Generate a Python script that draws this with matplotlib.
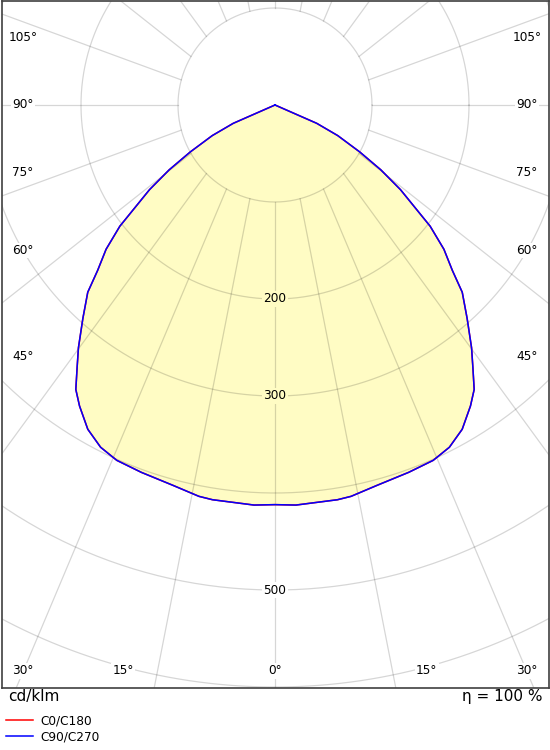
import numpy as np
import matplotlib.pyplot as plt

# luminous intensity (cd/klm) vs gamma angle
gamma_deg = [0, 3, 9, 11, 15, 20, 24, 27, 30, 33, 35, 37, 39, 42, 45, 47, 49.5, 52,
             56, 58.5, 61, 64, 66.3, 68, 90]
c0_c180 = [412, 413, 412, 411, 406, 403, 401, 396, 386, 370, 358, 339, 322, 296, 273, 250,
           229, 203, 156, 128, 100, 72, 47, 0, 0]
c90_c270 = [412, 413, 412, 411, 406, 403, 401, 396, 386, 370, 358, 339, 322, 296, 273, 250,
            229, 203, 156, 128, 100, 72, 47, 0, 0]

ring_values = [100, 200, 300, 400, 500, 600, 700, 800, 900, 1000]
ring_labels = [200, 300, 500]
side_angles = [45, 60, 75, 90, 105]
bottom_angles = [0, 15, 30]
ray_angles = list(range(0, 181, 15))

series_names = ["C0/C180", "C90/C270"]
series_colors = ["#ff0000", "#0000ff"]
fill_color = "#fffcc4"
grid_color = (0, 0, 0, 0.16)

# pixel geometry of the reference
W, H = 550, 750
cx, cy = 275, 105          # pole position in pixels
px = 0.97                  # pixels per cd/klm
left, right, top, bottom = 1.5, 549, 1, 688

fig = plt.figure(figsize=(W / 100, H / 100), dpi=100)
ax = fig.add_axes([left / W, 1 - bottom / H, (right - left) / W, (bottom - top) / H])
ax.set_xlim((left - cx) / px, (right - cx) / px)
ax.set_ylim((cy - bottom) / px, (cy - top) / px)
ax.set_xticks([])
ax.set_yticks([])
for sp in ax.spines.values():
    sp.set_color("#404040")
    sp.set_linewidth(1.2)


def half_curve(values, side):
    g = np.radians(gamma_deg)
    v = np.array(values, dtype=float)
    return side * v * np.sin(g), -v * np.cos(g)


curves = []
for vals in (c0_c180, c90_c270):
    xl, yl = half_curve(vals, -1)
    xr, yr = half_curve(vals, 1)
    curves.append((np.concatenate([xl[::-1], xr[1:]]), np.concatenate([yl[::-1], yr[1:]])))

# filled area under the luminous intensity curve
ax.fill(curves[1][0], curves[1][1], color=fill_color, lw=0, zorder=1)

# rings
t = np.linspace(0, 2 * np.pi, 721)
for r in ring_values:
    ax.plot(r * np.cos(t), r * np.sin(t), color=grid_color, lw=0.9, zorder=2)

# rays start on the innermost ring and fan out slightly squeezed
squeeze = 0.73
for ang in ray_angles:
    g = np.radians(ang)
    for side in (-1, 1):
        if ang in (0, 180) and side == 1:
            continue
        x0, y0 = side * 100 * np.sin(g), -100 * np.cos(g)
        dx, dy = side * squeeze * np.sin(g), -np.cos(g)
        n = np.hypot(dx, dy)
        ax.plot([x0, x0 + 2000 * dx / n], [y0, y0 + 2000 * dy / n],
                color=grid_color, lw=0.9, zorder=2)

# curves
lines = []
for (x, y), name, col in zip(curves, series_names, series_colors):
    ln, = ax.plot(x, y, color=col, lw=1.1, zorder=5, label=name)
    lines.append(ln)

fs = 8.7
# ring labels
for v in ring_labels:
    inside = v < max(c90_c270)
    ax.text(0, -v, str(v), ha="center", va="center", fontsize=fs, zorder=4,
            bbox=dict(boxstyle="square,pad=0.1", fc=fill_color if inside else "white", ec="none"))

# angle labels
xs = (23 - cx) / px
yb = (cy - 671) / px
for ang in side_angles:
    g = np.radians(ang)
    for side in (-1, 1):
        ax.text(side * abs(xs), xs / np.tan(g) if ang != 90 else 0, f"{ang}°",
                ha="center", va="center", fontsize=fs, zorder=4,
                bbox=dict(boxstyle="square,pad=0.1", fc="white", ec="none"))
for ang in bottom_angles:
    g = np.radians(ang)
    xb = min(abs(yb) * np.tan(g), abs(xs))
    for side in ((1,) if ang == 0 else (-1, 1)):
        ax.text(side * xb, yb, f"{ang}°", ha="center", va="center", fontsize=fs, zorder=4,
                bbox=dict(boxstyle="square,pad=0.1", fc="white", ec="none"))

fig.text(8 / W, 1 - 697 / H, "cd/klm", ha="left", va="center", fontsize=11)
fig.text(542 / W, 1 - 697 / H, "η = 100 %", ha="right", va="center", fontsize=11)

fig.legend(handles=lines, loc="upper left", bbox_to_anchor=(6 / W, 1 - 714 / H),
           frameon=False, fontsize=8.7, handlelength=2.25, handletextpad=0.6,
           labelspacing=0.25, borderpad=0, borderaxespad=0)

fig.savefig("out.png", dpi=100)
